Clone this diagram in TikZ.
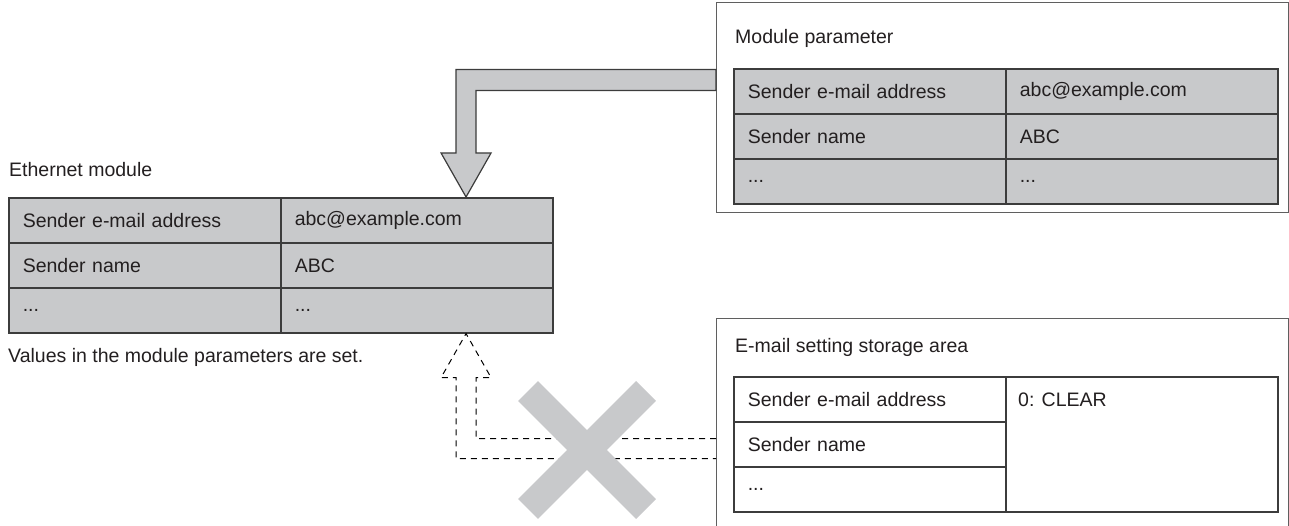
\documentclass[tikz,border=0pt]{standalone}
\usepackage{fontspec}
\setmainfont{Liberation Sans}
\usepackage{tikz}
\usetikzlibrary{calc}
\definecolor{cellgrey}{RGB}{200,201,203}
\definecolor{edgegrey}{RGB}{60,60,60}
\definecolor{framegrey}{RGB}{95,95,95}
\definecolor{textgrey}{RGB}{35,31,32}
\newcommand{\MailFont}{\fontsize{19.5}{23}\selectfont}
\tikzset{
	cell/.style={draw=edgegrey, line width=1.6pt, minimum width=272pt, minimum height=45pt, text width=244pt, inner xsep=14pt, anchor=north west, align=left, text=textgrey, font=\MailFont},
	greycell/.style={cell, fill=cellgrey},
	whitecell/.style={cell, fill=white},
	framebox/.style={draw=framegrey, line width=1.2pt, anchor=north west},
	caption/.style={anchor=base west, inner sep=0pt, text=textgrey, font=\MailFont},
	bigarrow/.style={draw=edgegrey, fill=cellgrey, line width=1.2pt, line join=miter},
	dasharrow/.style={draw=black, line width=1pt, dash pattern=on 6pt off 5pt}
}

\begin{document}
\begin{tikzpicture}[x=1pt,y=-1pt]
		\useasboundingbox (0,0) rectangle (1289,526);
		% Rahmen
		\node[framebox, minimum width=572pt, minimum height=210pt] (mpframe) at (716,2) {};
		\node[framebox, minimum width=572pt, minimum height=212pt] (stframe) at (716,318) {};
		% Module parameter
		\node[caption] (mptitle) at (735,44) {Module parameter};
		\foreach \r/\a/\b in {1/Sender e-mail address/abc@example.com,2/Sender name/ABC,3/{...}/{...}}{
			\node[greycell] (mpA\r) at (733,{68+45*(\r-1)}) {\a};
			\node[greycell] (mpB\r) at (1005,{68+45*(\r-1)}) {\b};
		}
		% Ethernet module
		\node[caption] (ethtitle) at (9,177) {Ethernet module};
		\foreach \r/\a/\b in {1/Sender e-mail address/abc@example.com,2/Sender name/ABC,3/{...}/{...}}{
			\node[greycell] (ethA\r) at (8,{197+45*(\r-1)}) {\a};
			\node[greycell] (ethB\r) at (280,{197+45*(\r-1)}) {\b};
		}
		\node[caption] (ethnote) at (8,362) {Values in the module parameters are set.};
		% E-mail setting storage area
		\node[caption] (sttitle) at (735,352) {E-mail setting storage area};
		\foreach \r/\a in {1/Sender e-mail address,2/Sender name,3/{...}}{
			\node[whitecell] (stA\r) at (733,{376+45*(\r-1)}) {\a};
		}
		\node[whitecell, minimum height=135pt] (stB) at (1005,376) {};
		\node[caption, anchor=west] (stclear) at ([xshift=13pt]stB.west |- stA1) {0: CLEAR};
		% Pfeile
		\coordinate (inTip) at ($(ethB1.north west)!0.68!(ethB1.north east)$);
		\draw[bigarrow] (inTip) -- ++(25,-44) -- ++(-15,0) |- ([yshift=17pt]mpframe.west)
			-- ([yshift=38pt]mpframe.west) -| ($(inTip)+(-10,-44)$) -- ++(-15,0) -- cycle;
		\coordinate (outTip) at ($(ethB3.south west)!0.68!(ethB3.south east)$);
		\draw[dasharrow] ([yshift=-14pt]stframe.west) -| ($(outTip)+(10,44)$) -- ++(15,0) -- (outTip)
			-- ++(-25,44) -- ++(15,0) |- ([yshift=-34pt]stframe.west);
		% Kreuz
		\coordinate (noCopy) at (587,450);
		\draw[cellgrey, line width=28pt] ($(noCopy)+(-59,-59)$) -- ($(noCopy)+(59,59)$)
			($(noCopy)+(-59,59)$) -- ($(noCopy)+(59,-59)$);
\end{tikzpicture}
\end{document}
